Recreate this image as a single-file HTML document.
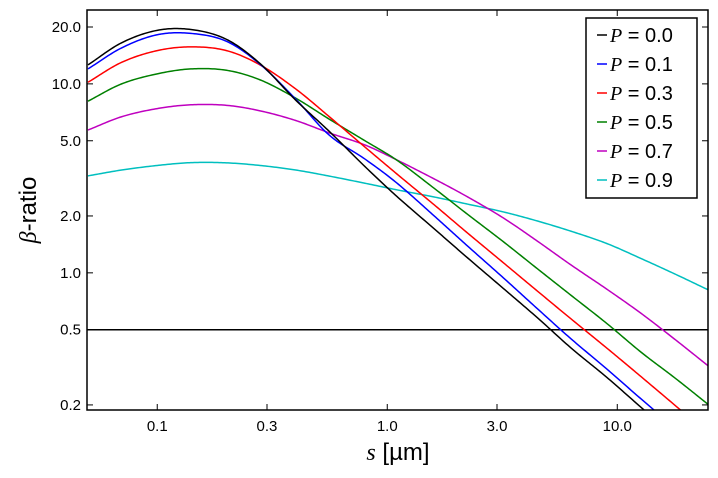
<!DOCTYPE html>
<html><head><meta charset="utf-8"><style>
body{margin:0;background:#fff;}
svg{display:block;font-family:"Liberation Sans",sans-serif;}
</style></head><body>
<svg id="chart" width="718" height="478"></svg>
<script>
const xTicks=[0.1,0.3,1.0,3.0,10.0];
const xTickLabels=["0.1","0.3","1.0","3.0","10.0"];
const yTicks=[20,10,5,2,1,0.5,0.2];
const yTickLabels=["20.0","10.0","5.0","2.0","1.0","0.5","0.2"];
const seriesNames=["0.0","0.1","0.3","0.5","0.7","0.9"];
const seriesColors=["#000000","#0000ff","#ff0000","#008000","#bf00bf","#00bfbf"];
const sGrid=[0.05,0.07,0.1,0.14,0.2,0.28,0.4,0.56,0.8,1.1,1.6,2.2,3.2,4.5,6.3,9,12.7,18,25];
const bP0=[12.6,16.5,19.2,19.4,17.2,12.8,8.2,5.6,3.65,2.54,1.71,1.22,0.826,0.578,0.40,0.28,0.194,0.134,0.095];
const bP1=[12.0,15.5,18.2,18.5,16.8,12.7,8.3,5.35,4.0,2.99,2.0,1.41,0.94,0.645,0.447,0.31,0.215,0.15,0.107];
const bP3=[10.2,13.0,15.0,15.7,15.0,12.6,9.4,6.7,4.63,3.34,2.29,1.65,1.13,0.80,0.57,0.40,0.282,0.197,0.14];
const bP5=[8.1,10.0,11.3,12.0,11.8,10.5,8.4,6.5,5.0,3.95,2.8,2.07,1.46,1.05,0.76,0.54,0.38,0.275,0.20];
const bP7=[5.7,6.7,7.4,7.75,7.7,7.2,6.4,5.5,4.75,3.96,3.14,2.55,1.95,1.47,1.10,0.82,0.61,0.44,0.32];
const bP9=[3.26,3.5,3.7,3.83,3.82,3.7,3.5,3.25,2.98,2.75,2.52,2.32,2.1,1.88,1.66,1.43,1.19,0.98,0.81];
const refLine=0.5;

const L=87,R=708,T=10,B=410;
const xMin=Math.log10(0.0495),xMax=Math.log10(24.8);
const yMin=Math.log10(0.188),yMax=Math.log10(24.6);
const X=v=>L+(Math.log10(v)-xMin)/(xMax-xMin)*(R-L);
const Y=v=>B-(Math.log10(v)-yMin)/(yMax-yMin)*(B-T);
const NS="http://www.w3.org/2000/svg";
const svg=document.getElementById('chart');
function mk(tag,attrs,parent){const e=document.createElementNS(NS,tag);for(const k in attrs)e.setAttribute(k,attrs[k]);(parent||svg).appendChild(e);return e;}

const defs=mk('defs',{});
const cp=mk('clipPath',{id:'clip'},defs);
mk('rect',{x:L,y:T,width:R-L,height:B-T},cp);

const plot=mk('g',{'clip-path':'url(#clip)'});



function pathFor(xs,ys){
  const lx=xs.map(s=>Math.log10(s)), ly=ys.map(v=>Math.log10(v));
  const n=lx.length, m=[];
  for(let i=0;i<n;i++){
    if(i===0) m.push((ly[1]-ly[0])/(lx[1]-lx[0]));
    else if(i===n-1) m.push((ly[n-1]-ly[n-2])/(lx[n-1]-lx[n-2]));
    else m.push((ly[i+1]-ly[i-1])/(lx[i+1]-lx[i-1]));
  }
  const pts=[];
  for(let i=0;i<n-1;i++){
    const h=lx[i+1]-lx[i];
    const steps=20;
    for(let k=0;k<=steps;k++){
      if(i>0&&k===0) continue;
      const t=k/steps,t2=t*t,t3=t2*t;
      const y=(2*t3-3*t2+1)*ly[i]+(t3-2*t2+t)*h*m[i]+(-2*t3+3*t2)*ly[i+1]+(t3-t2)*h*m[i+1];
      const x=lx[i]+t*h;
      pts.push([X(Math.pow(10,x)),Y(Math.pow(10,y))]);
    }
  }
  return 'M'+pts.map(p=>p[0].toFixed(2)+','+p[1].toFixed(2)).join(' L');
}
const allB=[bP0,bP1,bP3,bP5,bP7,bP9];
const hl=mk('line',{x1:L,x2:R,y1:Y(refLine),y2:Y(refLine),stroke:'#000','stroke-width':1.5},plot);


for(let k=allB.length-1;k>=0;k--){
  const e=mk('path',{d:pathFor(sGrid,allB[k]),fill:'none',stroke:seriesColors[k],'stroke-width':1.5,'stroke-linejoin':'round'},plot);
  
  
}
const frame=mk('rect',{x:L,y:T,width:R-L,height:B-T,fill:'none',stroke:'#000','stroke-width':1.5});



xTicks.forEach((v,i)=>{
  const x=X(v);
  mk('line',{x1:x,x2:x,y1:B,y2:B-6,stroke:'#000'});
  mk('line',{x1:x,x2:x,y1:T,y2:T+6,stroke:'#000'});
  const t=mk('text',{x:x,y:B+21,'text-anchor':'middle','font-size':15});
  t.textContent=xTickLabels[i];
  
  
});
yTicks.forEach((v,i)=>{
  const y=Y(v);
  mk('line',{x1:L,x2:L+6,y1:y,y2:y,stroke:'#000'});
  mk('line',{x1:R,x2:R-6,y1:y,y2:y,stroke:'#000'});
  const t=mk('text',{x:L-6,y:y+5,'text-anchor':'end','font-size':15});
  t.textContent=yTickLabels[i];
  
  
});

const xt=mk('text',{x:398,y:460,'text-anchor':'middle','font-size':24});
xt.innerHTML='<tspan font-family="Liberation Serif" font-style="italic">s</tspan> [µm]';


const yt=mk('text',{x:0,y:0,'text-anchor':'middle','font-size':24,transform:'translate(36,210) rotate(-90)'});
yt.innerHTML='<tspan font-family="Liberation Serif" font-style="italic">β</tspan>-ratio';



const lg=mk('g',{});


mk('rect',{x:586,y:18,width:111,height:180,fill:'#fff',stroke:'#000','stroke-width':1.5},lg);
seriesNames.forEach((n,i)=>{
  const y=35+i*29;
  const g=mk('g',{},lg);
  
  
  mk('line',{x1:597,x2:607,y1:y,y2:y,stroke:seriesColors[i],'stroke-width':1.5},g);
  const t=mk('text',{x:610,y:y+7,'font-size':20},g);
  t.innerHTML='<tspan font-family="Liberation Serif" font-style="italic">P</tspan> = '+n;
});
</script>
</body></html>
